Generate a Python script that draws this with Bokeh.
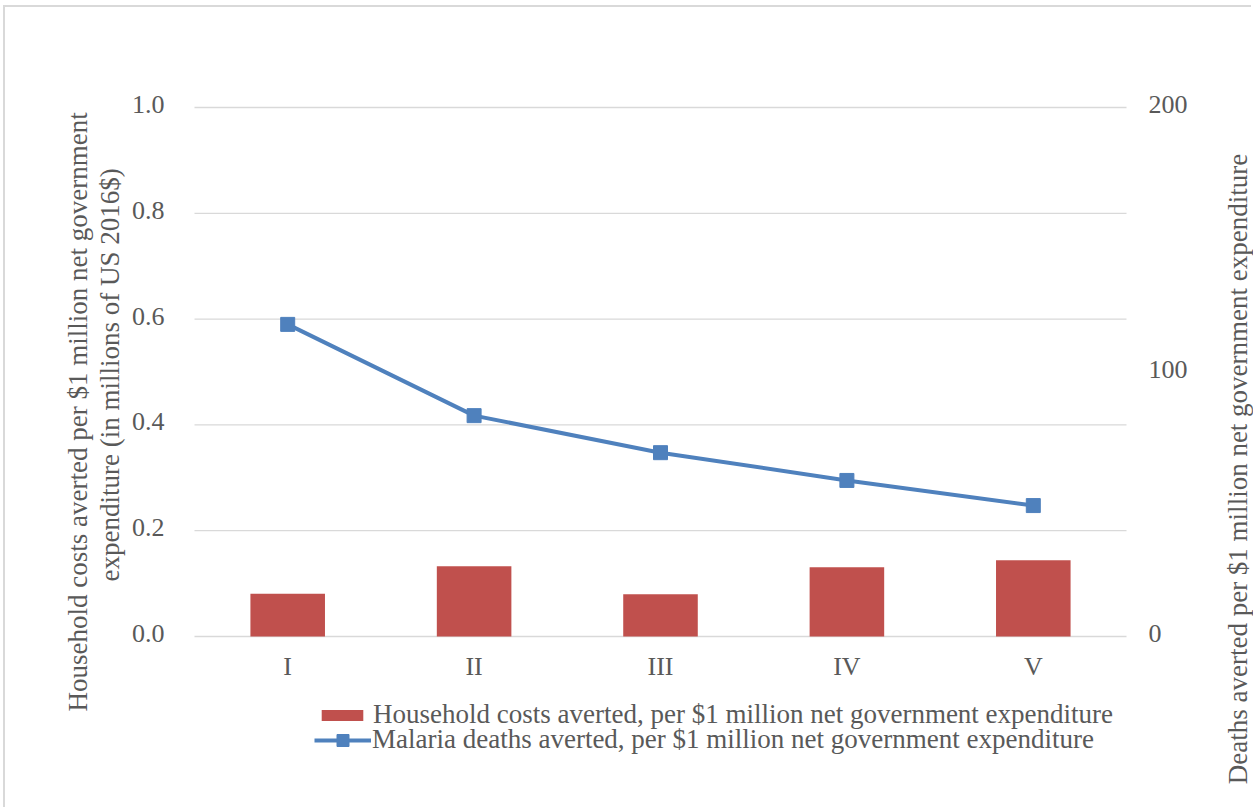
import math
from bokeh.plotting import figure
from bokeh.models import Range1d, Label, Legend, LegendItem
from bokeh.embed import file_html
from bokeh.resources import INLINE

# Data
quintiles = ["I", "II", "III", "IV", "V"]
household_costs = [0.081, 0.133, 0.080, 0.131, 0.144]   # millions of US 2016$
deaths_averted = [118, 83.5, 69.5, 59, 49.5]

left_ticks = [0.0, 0.2, 0.4, 0.6, 0.8, 1.0]
right_ticks = [0, 100, 200]
right_max = 200

FONT = "Liberation Serif"
TXT = "#595959"
GRID = "#D9D9D9"
RED = "#C0504D"
BLUE = "#4F81BD"
FS = "26px"
FS_TITLE = "27px"

# canvas and plot-box geometry (pixels)
W, H = 1248, 802
L, R, T, B = 189, 1121, 100, 629

n = len(quintiles)
xpos = list(range(1, n + 1))
xu = n / (R - L)          # data units per pixel, horizontally
yu = 1.0 / (B - T)        # data units per pixel, vertically (left scale)
x_start, x_end = 0.5 - L * xu, n + 0.5 + (W - R) * xu
y_start, y_end = -(H - B) * yu, 1 + T * yu


def dx(px):
    return x_start + px * xu


def dy(py):
    return y_end - py * yu


p = figure(width=W, height=H, x_range=Range1d(x_start, x_end), y_range=Range1d(y_start, y_end),
           x_axis_type=None, y_axis_type=None, title=None, min_border=0,
           output_backend="svg", toolbar_location=None,
           styles={"margin-left": "5px", "margin-top": "7px",
                   "box-shadow": "-2px -2px 0 0 #D9D9D9"})
p.outline_line_color = None
p.grid.visible = False
p.extra_y_ranges = {"deaths": Range1d(y_start * right_max, y_end * right_max)}

# horizontal gridlines (the 0 line doubles as the category axis line)
p.segment(x0=[0.5] * len(left_ticks), x1=[n + 0.5] * len(left_ticks), y0=left_ticks, y1=left_ticks,
          line_color=GRID, line_width=1.3)

# series
bars = p.vbar(x=xpos, top=household_costs, width=0.4, fill_color=RED, line_color=None)
line = p.line(x=xpos, y=deaths_averted, y_range_name="deaths", line_width=4, line_color=BLUE)
pts = p.scatter(x=xpos, y=deaths_averted, y_range_name="deaths", marker="square", size=14,
                fill_color=BLUE, line_color=BLUE)

# tick labels
tick_style = dict(text_font=FONT, text_font_size=FS, text_color=TXT, text_baseline="middle")
p.text(x=[0.5] * len(left_ticks), y=left_ticks, text=[f"{t:.1f}" for t in left_ticks],
       x_offset=-30, y_offset=-3, text_align="right", **tick_style)
p.text(x=[n + 0.5] * len(right_ticks), y=right_ticks, text=[str(t) for t in right_ticks],
       y_range_name="deaths", x_offset=22, y_offset=-3, text_align="left", **tick_style)
p.text(x=xpos, y=[0] * n, text=quintiles, y_offset=30, text_align="center", **tick_style)


# axis titles
def title(text, px, py):
    p.add_layout(Label(x=dx(px), y=dy(py), text=text, angle=math.pi / 2, text_align="center",
                       text_baseline="middle", text_font=FONT, text_font_size=FS_TITLE,
                       text_color=TXT))


title("Household costs averted  per $1 million net government", 72, 401)
title("expenditure  (in millions of US 2016$)", 104, 364)
title("Deaths averted per $1 million net government expenditure", 1232, 461.5)

# legend, one row per series
common = dict(orientation="vertical", padding=0, margin=0, spacing=0, border_line_color=None,
              background_fill_alpha=0, label_text_font=FONT, label_text_font_size=FS_TITLE,
              label_text_color=TXT)
leg1 = Legend(items=[LegendItem(label="Household costs averted, per $1 million net government expenditure",
                                renderers=[bars])],
              location=(311, 79), glyph_width=52, glyph_height=14, label_standoff=5, **common)
leg2 = Legend(items=[LegendItem(label="Malaria deaths averted, per $1 million net government expenditure",
                                renderers=[line, pts])],
              location=(309, 54), glyph_width=57, glyph_height=30, label_standoff=1, **common)
p.add_layout(leg1, "center")
p.add_layout(leg2, "center")

open("out.html", "w").write(file_html(p, INLINE))
